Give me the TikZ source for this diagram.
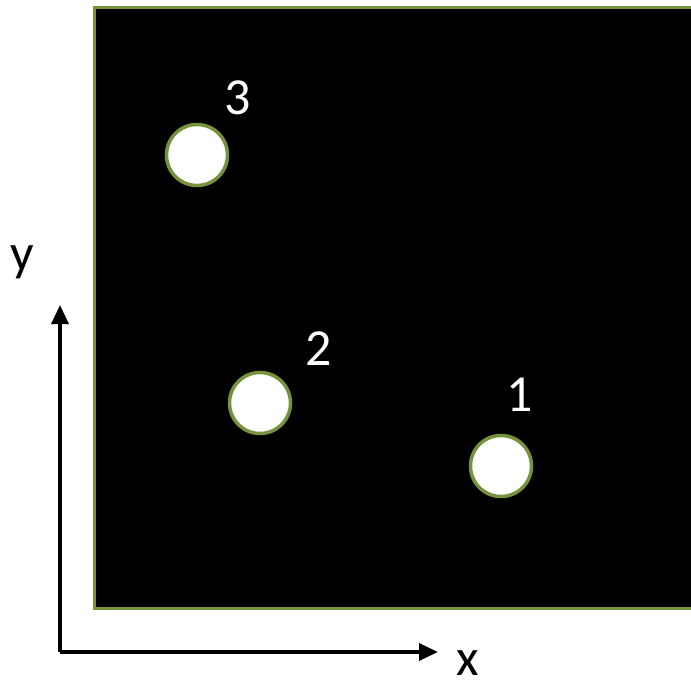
\documentclass[tikz,border=0pt]{standalone}
\usepackage{fontspec}
\setmainfont{Carlito}
\usetikzlibrary{arrows.meta}
\definecolor{olive}{RGB}{118,146,60}
\tikzset{
  hole/.style={circle,draw=olive,fill=white,line width=3.5pt,minimum size=61pt,inner sep=0pt},
  lbl/.style={text=white,font=\fontsize{52}{52}\selectfont,inner sep=0pt},
  axlbl/.style={text=black,font=\fontsize{52}{52}\selectfont,inner sep=0pt},
  axis/.style={line width=3.5pt,-{Triangle[length=19pt,width=17pt]}}
}
\begin{document}
\begin{tikzpicture}[x=1pt,y=-1pt]
\useasboundingbox (0,0) rectangle (691,687);
\clip (0,0) rectangle (691,687);
\draw[olive,fill=black,line width=3pt] (94,8) rectangle (720,608);
\node[hole] (c3) at (197,155) {};
\node[hole] (c2) at (260,403) {};
\node[hole] (c1) at (501,466) {};
\node[lbl] (l3) at (238,98) {3};
\node[lbl] (l2) at (319,349) {2};
\node[lbl] (l1) at (520,395) {1};
\coordinate (o) at (60,652);
\coordinate (ytip) at (60,305);
\coordinate (xtip) at (438,652);
\draw[axis] (o) -- (ytip);
\draw[axis] (o) -- (xtip);
\node[axlbl] (ly) at (22,262) {y};
\node[axlbl] (lx) at (468,663) {x};
\end{tikzpicture}
\end{document}
